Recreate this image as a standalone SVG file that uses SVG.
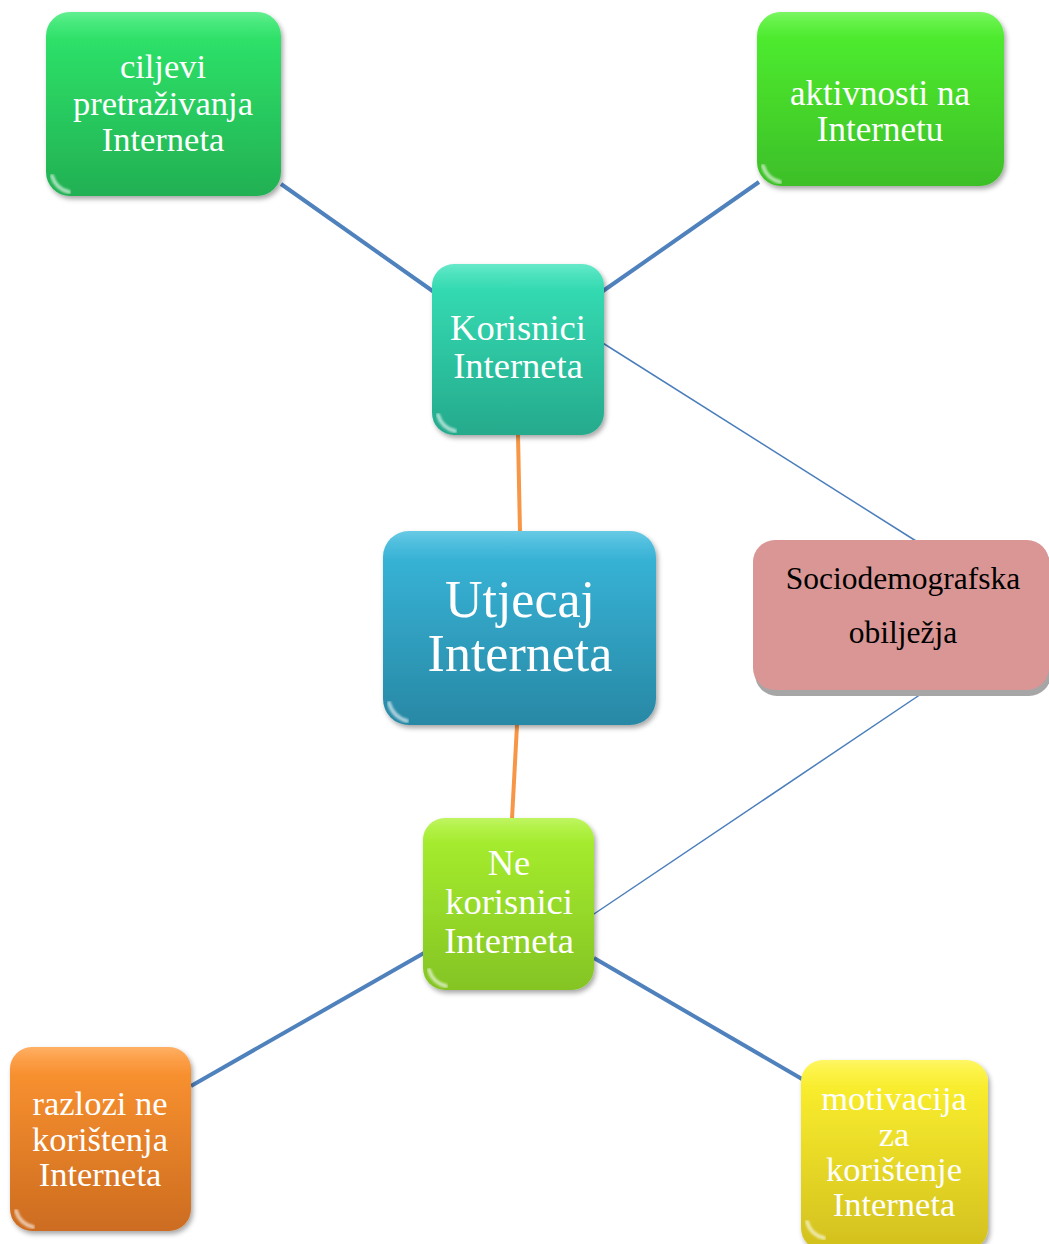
<svg xmlns="http://www.w3.org/2000/svg" width="1049" height="1244" viewBox="0 0 1049 1244">
<style>
.t{font-family:"Liberation Serif","Times New Roman",serif;fill:#fff;text-anchor:middle}
.tb{font-family:"Liberation Serif","Times New Roman",serif;fill:#000;text-anchor:middle}
.gloss{fill:url(#gloss)}
.hl{fill:none;stroke:#fff;stroke-width:4;stroke-linecap:round;opacity:0.6;filter:url(#soft)}
.blue{stroke:#4f81bd;stroke-width:4;fill:none}
.thin{stroke:#4a7ebb;stroke-width:1.5;fill:none}
.orange{stroke:#f79646;stroke-width:4;fill:none}
</style>
<defs>
<filter id="sh" x="-10%" y="-10%" width="125%" height="125%"><feDropShadow dx="2" dy="3" stdDeviation="2.5" flood-color="#000" flood-opacity="0.35"/></filter>
<filter id="soft"><feGaussianBlur stdDeviation="0.8"/></filter>
<linearGradient id="gloss" x1="0" y1="0" x2="0" y2="1"><stop offset="0" stop-color="#fff" stop-opacity="0.25"/><stop offset="0.06" stop-color="#fff" stop-opacity="0.12"/><stop offset="0.15" stop-color="#fff" stop-opacity="0"/></linearGradient>
<linearGradient id="g1" x1="0" y1="0" x2="0" y2="1"><stop offset="0" stop-color="#2fe96c"/><stop offset="1" stop-color="#22b053"/></linearGradient>
<linearGradient id="g2" x1="0" y1="0" x2="0" y2="1"><stop offset="0" stop-color="#50f22f"/><stop offset="1" stop-color="#3dbf28"/></linearGradient>
<linearGradient id="g3" x1="0" y1="0" x2="0" y2="1"><stop offset="0" stop-color="#36e2b8"/><stop offset="1" stop-color="#25aa8c"/></linearGradient>
<linearGradient id="g4" x1="0" y1="0" x2="0" y2="1"><stop offset="0" stop-color="#39b9dd"/><stop offset="1" stop-color="#2888a5"/></linearGradient>
<linearGradient id="g6" x1="0" y1="0" x2="0" y2="1"><stop offset="0" stop-color="#aaf22f"/><stop offset="1" stop-color="#84c424"/></linearGradient>
<linearGradient id="g7" x1="0" y1="0" x2="0" y2="1"><stop offset="0" stop-color="#ff9632"/><stop offset="1" stop-color="#cc6c20"/></linearGradient>
<linearGradient id="g8" x1="0" y1="0" x2="0" y2="1"><stop offset="0" stop-color="#fff430"/><stop offset="1" stop-color="#d2c01e"/></linearGradient>
</defs>
<g id="connectors">
<line class="blue" x1="281" y1="184" x2="434" y2="292"/>
<line class="blue" x1="759" y1="182" x2="603" y2="291"/>
<line class="thin" x1="598" y1="340" x2="916" y2="541"/>
<line class="thin" x1="927" y1="690" x2="588" y2="918"/>
<line class="orange" x1="518" y1="435" x2="520" y2="532"/>
<line class="orange" x1="517" y1="725" x2="512" y2="819"/>
<line class="blue" x1="424" y1="953" x2="191" y2="1086"/>
<line class="blue" x1="594" y1="958" x2="802" y2="1079"/>
</g>
<g id="ciljevi">
<rect x="46" y="12" width="235" height="184" rx="24" fill="url(#g1)" filter="url(#sh)"/>
<rect x="46" y="12" width="235" height="184" rx="24" class="gloss"/>
<path class="hl" d="M52 176 Q56 189 69 192"/>
<text class="t" font-size="34.5" x="163"><tspan x="163" y="78">ciljevi</tspan><tspan x="163" y="115">pretraživanja</tspan><tspan x="163" y="151">Interneta</tspan></text>
</g>
<g id="aktivnosti">
<rect x="757" y="12" width="247" height="174" rx="24" fill="url(#g2)" filter="url(#sh)"/>
<rect x="757" y="12" width="247" height="174" rx="24" class="gloss"/>
<path class="hl" d="M763 166 Q767 179 780 182"/>
<text class="t" font-size="35" x="880"><tspan x="880" y="105">aktivnosti na</tspan><tspan x="880" y="141">Internetu</tspan></text>
</g>
<g id="korisnici">
<rect x="432" y="264" width="172" height="171" rx="22" fill="url(#g3)" filter="url(#sh)"/>
<rect x="432" y="264" width="172" height="171" rx="22" class="gloss"/>
<path class="hl" d="M438 415 Q442 428 455 431"/>
<text class="t" font-size="36.5" x="518"><tspan x="518" y="340">Korisnici</tspan><tspan x="518" y="378">Interneta</tspan></text>
</g>
<g id="utjecaj">
<rect x="383" y="531" width="273" height="194" rx="26" fill="url(#g4)" filter="url(#sh)"/>
<rect x="383" y="531" width="273" height="194" rx="26" class="gloss"/>
<path class="hl" d="M389 703 Q393 717 407 721"/>
<text class="t" font-size="52" x="520"><tspan x="520" y="617">Utjecaj</tspan><tspan x="520" y="671">Interneta</tspan></text>
</g>
<g id="socio">
<rect x="755" y="545" width="296" height="151" rx="22" fill="#a6a6a6"/>
<rect x="753" y="540" width="296" height="150" rx="22" fill="#d99694"/>
<text class="tb" font-size="31.5" x="903"><tspan x="903" y="589">Sociodemografska</tspan><tspan x="903" y="643">obilježja</tspan></text>
</g>
<g id="nekorisnici">
<rect x="423" y="818" width="171" height="172" rx="22" fill="url(#g6)" filter="url(#sh)"/>
<rect x="423" y="818" width="171" height="172" rx="22" class="gloss"/>
<path class="hl" d="M429 970 Q433 983 446 986"/>
<text class="t" font-size="36.5" x="509"><tspan x="509" y="875">Ne</tspan><tspan x="509" y="914">korisnici</tspan><tspan x="509" y="953">Interneta</tspan></text>
</g>
<g id="razlozi">
<rect x="10" y="1047" width="181" height="184" rx="22" fill="url(#g7)" filter="url(#sh)"/>
<rect x="10" y="1047" width="181" height="184" rx="22" class="gloss"/>
<path class="hl" d="M16 1211 Q20 1224 33 1227"/>
<text class="t" font-size="34.5" x="100"><tspan x="100" y="1115">razlozi ne</tspan><tspan x="100" y="1151">korištenja</tspan><tspan x="100" y="1186">Interneta</tspan></text>
</g>
<g id="motivacija">
<rect x="801" y="1060" width="187" height="190" rx="22" fill="url(#g8)" filter="url(#sh)"/>
<rect x="801" y="1060" width="187" height="190" rx="22" class="gloss"/>
<path class="hl" d="M807 1222 Q811 1235 824 1238"/>
<text class="t" font-size="34.5" x="894"><tspan x="894" y="1110">motivacija</tspan><tspan x="894" y="1146">za</tspan><tspan x="894" y="1181">korištenje</tspan><tspan x="894" y="1216">Interneta</tspan></text>
</g>
</svg>
